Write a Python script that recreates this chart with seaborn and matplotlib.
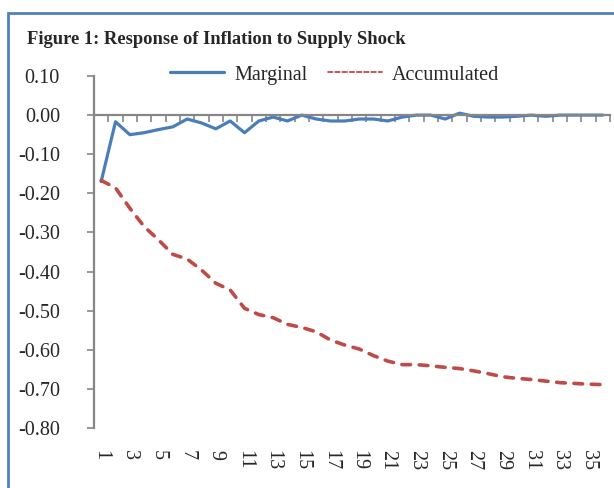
# Figure 1: Response of inflation to a supply shock (marginal vs accumulated)

import numpy as np
import pandas as pd
import matplotlib.pyplot as plt
from matplotlib.patches import Rectangle
from matplotlib.ticker import FormatStrFormatter
import seaborn as sns

# Periods 1..36
periods = list(range(1, 37))

# Marginal response.
marginal = [-0.170, -0.017, -0.050, -0.045, -0.037, -0.030, -0.010, -0.020,
            -0.035, -0.015, -0.045, -0.015, -0.005, -0.015, 0.000, -0.010,
            -0.015, -0.015, -0.010, -0.010, -0.015, -0.005, 0.000, 0.000,
            -0.010, 0.005, -0.003, -0.005, -0.005, -0.003, 0.000, -0.003,
            0.000, 0.000, 0.000, 0.000]

# Accumulated response.
accumulated = [-0.167, -0.186, -0.238, -0.285, -0.319, -0.356, -0.368, -0.396,
               -0.430, -0.447, -0.494, -0.510, -0.518, -0.535, -0.543, -0.554,
               -0.575, -0.588, -0.598, -0.615, -0.629, -0.638, -0.638, -0.641,
               -0.645, -0.648, -0.654, -0.661, -0.669, -0.673, -0.676, -0.680,
               -0.684, -0.686, -0.688, -0.689]

y_ticks = [-0.8, -0.7, -0.6, -0.5, -0.4, -0.3, -0.2, -0.1, 0.0, 0.1]
x_labels = list(range(1, 36, 2))

resp_df = pd.DataFrame({'period': periods,
                        'Marginal': marginal,
                        'Accumulated': accumulated})

sns.set_style('white')
plt.rcParams['font.family'] = ['Liberation Serif', 'DejaVu Serif']
plt.rcParams['axes.unicode_minus'] = False

fig = plt.figure(figsize=(6.14, 4.88), dpi=100)
ax = fig.add_axes([94/614, 1 - 428/488, (610 - 94)/614, (428 - 76)/488])

blue = '#4A7EBB'
red = '#BE4B48'
grey = '#868686'

sns.lineplot(x='period', y='Marginal', data=resp_df, ax=ax,
             color=blue, linewidth=2.3, label='Marginal')
sns.lineplot(x='period', y='Accumulated', data=resp_df, ax=ax,
             color=red, linewidth=2.6, label='Accumulated')
# Excel-like round dashes
ax.lines[1].set_dashes([2.4, 2.4])
ax.lines[1].set_dash_capstyle('round')

ax.set_xlim(0.5, 36.5)
ax.set_ylim(-0.8, 0.1)

# y axis
ax.set_yticks(y_ticks)
ax.yaxis.set_major_formatter(FormatStrFormatter('%.2f'))
ax.tick_params(axis='y', direction='out', length=5, width=1.2, color=grey,
               pad=19.5, labelsize=14.5, left=True)

# category axis line sits at zero, tick marks between categories
ax.spines['bottom'].set_position(('data', 0))
ax.set_xticks(np.arange(0.5, 37, 1))
ax.set_xticklabels([])
ax.tick_params(axis='x', direction='out', length=5, width=1.2, color=grey,
               bottom=True)
for side in ['top', 'right']:
    ax.spines[side].set_visible(False)
for side in ['left', 'bottom']:
    ax.spines[side].set_color(grey)
    ax.spines[side].set_linewidth(1.6)

# category labels at the bottom of the plot
sec = ax.secondary_xaxis('bottom')
sec.set_xticks(x_labels)
sec.set_xticklabels([str(v) for v in x_labels], rotation=270,
                    fontsize=14.5, va='top', ha='center')
sec.tick_params(length=0, pad=16)
sec.spines['bottom'].set_visible(False)

ax.set_xlabel('')
ax.set_ylabel('')

leg = ax.legend(loc='center left', bbox_to_anchor=(170/614, 1 - 75/488),
                bbox_transform=fig.transFigure, ncol=2, frameon=False,
                fontsize=14.5, handlelength=2.7, handletextpad=0.5,
                columnspacing=1.0, borderpad=0, borderaxespad=0)
leg.get_lines()[1].set_linewidth(1.3)
leg.get_lines()[1].set_dashes([2.5, 1.5])

fig.text(27/614, 1 - 40/488, 'Figure 1: Response of Inflation to Supply Shock',
         fontsize=13.3, fontweight='bold', ha='left', va='center')

# blue frame around the chart
fig.patches.append(Rectangle((8/614, -0.1), 1.2, 1 - 13/488 + 0.1,
                             transform=fig.transFigure, fill=False,
                             edgecolor='#4F81BD', linewidth=2))

fig.savefig('out.png', dpi=100)
